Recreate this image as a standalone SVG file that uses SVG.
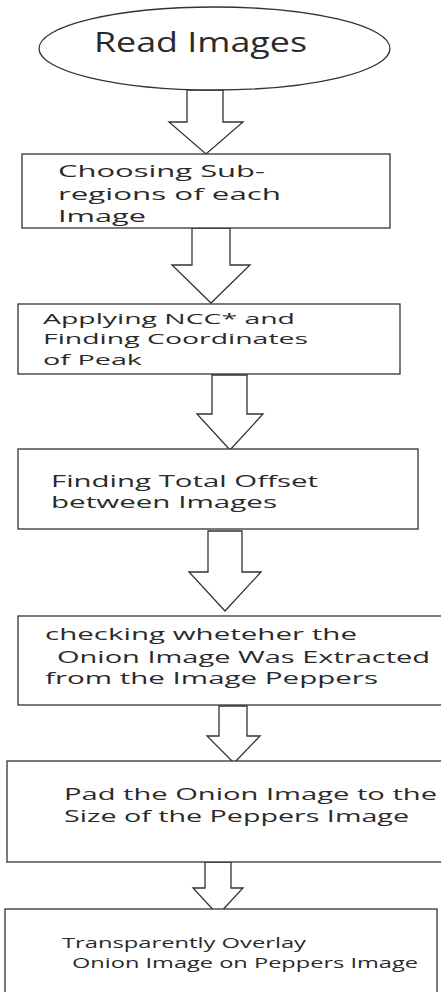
<svg xmlns="http://www.w3.org/2000/svg" width="441" height="992" viewBox="0 0 441 992">
<style>
.shape{fill:#fff;stroke:#333;stroke-width:1.3}
.arrow{fill:#fff;stroke:#333;stroke-width:1.3;stroke-linejoin:miter}
text{font-family:"Open Sans","Liberation Sans",sans-serif;fill:#2a2a2a}
.t17{font-size:17px}
.t15{font-size:15.5px}
.t15s{font-size:14.8px}
.t14{font-size:14.5px}
</style>
<rect width="441" height="992" fill="#fff"/>
<g id="connectors">
<polygon class="arrow" points="187,90 223,90 223,122 243,122 206,154 169,122 187,122"/>
<polygon class="arrow" points="192,228 230,228 230,265 250,265 211,303 172,265 192,265"/>
<polygon class="arrow" points="212,375 247,375 247,414 263,414 230,450 197,414 212,414"/>
<polygon class="arrow" points="208,531 242,531 242,572 261,572 225,611 189,572 208,572"/>
<polygon class="arrow" points="219,706 247,706 247,736 260,736 234,763 207,736 219,736"/>
<polygon class="arrow" points="205,862 231,862 231,888 243,888 218,915 193,888 205,888"/>
</g>
<g id="n1">
<ellipse class="shape" cx="214.5" cy="48.5" rx="175.5" ry="41.5"/>
<text x="94" y="52" font-size="28" textLength="213" lengthAdjust="spacingAndGlyphs" fill="#111">Read Images</text>
</g>
<g id="n2">
<rect class="shape" x="22" y="154" width="368" height="74"/>
<text class="t17" x="58" y="177" textLength="207" lengthAdjust="spacingAndGlyphs">Choosing Sub-</text>
<text class="t17" x="58" y="200" textLength="223" lengthAdjust="spacingAndGlyphs">regions of each</text>
<text class="t17" x="58" y="222" textLength="88" lengthAdjust="spacingAndGlyphs">Image</text>
</g>
<g id="n3">
<rect class="shape" x="18" y="304" width="382" height="70"/>
<text class="t15s" x="43" y="324" textLength="252" lengthAdjust="spacingAndGlyphs">Applying NCC* and</text>
<text class="t15s" x="43" y="344" textLength="265" lengthAdjust="spacingAndGlyphs">Finding Coordinates</text>
<text class="t15s" x="43" y="365" textLength="99" lengthAdjust="spacingAndGlyphs">of Peak</text>
</g>
<g id="n4">
<rect class="shape" x="18" y="449" width="400" height="80"/>
<text class="t15" x="51" y="487" textLength="267" lengthAdjust="spacingAndGlyphs">Finding Total Offset</text>
<text class="t15" x="51" y="508" textLength="226" lengthAdjust="spacingAndGlyphs">between Images</text>
</g>
<g id="n5">
<rect class="shape" x="18" y="616" width="440" height="89"/>
<text class="t15" x="45" y="640" textLength="312" lengthAdjust="spacingAndGlyphs">checking wheteher the</text>
<text class="t15" x="57" y="663" textLength="373" lengthAdjust="spacingAndGlyphs">Onion Image Was Extracted</text>
<text class="t15" x="45" y="684" textLength="333" lengthAdjust="spacingAndGlyphs">from the Image Peppers</text>
</g>
<g id="n6">
<rect class="shape" x="7" y="761" width="450" height="101"/>
<text class="t17" x="64" y="800" textLength="373" lengthAdjust="spacingAndGlyphs">Pad the Onion Image to the</text>
<text class="t17" x="64" y="822" textLength="345" lengthAdjust="spacingAndGlyphs">Size of the Peppers Image</text>
</g>
<g id="n7">
<rect class="shape" x="5" y="909" width="432" height="95"/>
<text class="t14" x="62" y="948" textLength="244" lengthAdjust="spacingAndGlyphs">Transparently Overlay</text>
<text class="t14" x="72" y="968" textLength="346" lengthAdjust="spacingAndGlyphs">Onion Image on Peppers Image</text>
</g>
</svg>
